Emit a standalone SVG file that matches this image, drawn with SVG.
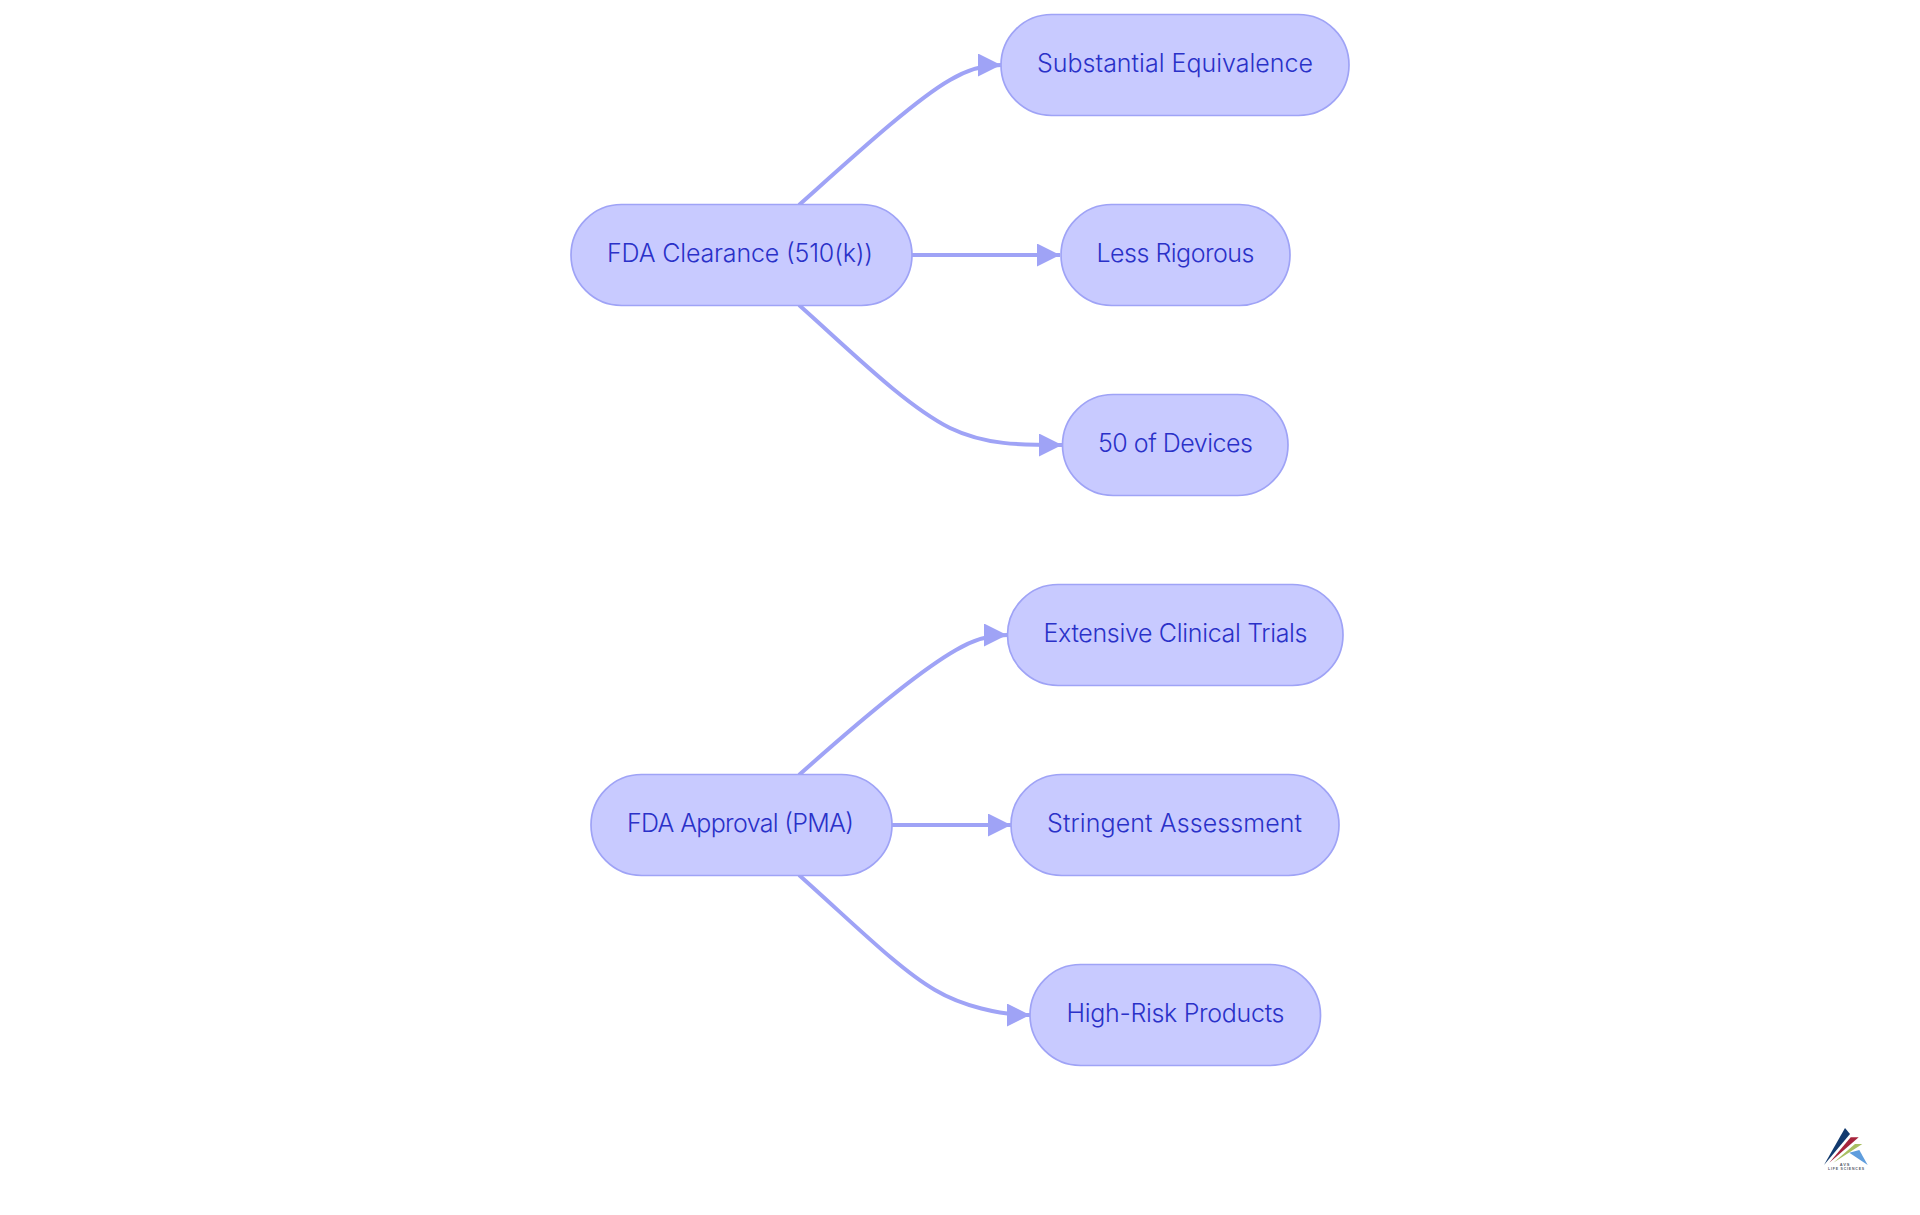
<svg xmlns="http://www.w3.org/2000/svg" width="1920" height="1215" viewBox="0 0 1920 1215">
<style>
.node rect{fill:#c8caff;stroke:#9fa3f6;stroke-width:1.700}
.node text{font-family:"Inter","Noto Sans",sans-serif;font-size:25px;font-weight:300;fill:#2a31c8;text-anchor:start}
.edge{fill:none;stroke:#9fa3f6;stroke-width:4}
.logo-t{font-family:"Liberation Sans",sans-serif;font-weight:700;fill:#555a68;text-anchor:middle}
</style>
<defs>
<marker id="arrow" markerUnits="userSpaceOnUse" markerWidth="24" markerHeight="24" refX="23" refY="11.500" orient="auto">
<path d="M0 0L23 11.500L0 23Z" fill="#9fa3f6"/>
</marker>
</defs>
<rect width="1920" height="1215" fill="#ffffff"/>
<g id="connectors">
<path class="edge" marker-end="url(#arrow)" d="M799 205C855 155 915 100 950 80C965 71 980 65 1001 65"/>
<path class="edge" marker-end="url(#arrow)" d="M912 255L1060 255"/>
<path class="edge" marker-end="url(#arrow)" d="M799 305C855 355 905 405 950 428C985 445 1020 445 1062 445"/>
<path class="edge" marker-end="url(#arrow)" d="M799 775C855 725 921 670 956 650C971 641 986 635 1007 635"/>
<path class="edge" marker-end="url(#arrow)" d="M892 825L1011 825"/>
<path class="edge" marker-end="url(#arrow)" d="M799 875C855 925 900 970 935 990C962 1006 1000 1015 1030 1015"/>
</g>
<g id="n1" class="node"><rect x="571" y="204.500" width="341" height="101" rx="50.500"/><text x="607" y="262" textLength="266">FDA Clearance (510(k))</text></g>
<g id="n2" class="node"><rect x="1001" y="14.500" width="348" height="101" rx="50.500"/><text x="1037" y="72" textLength="276">Substantial Equivalence</text></g>
<g id="n3" class="node"><rect x="1061" y="204.500" width="229" height="101" rx="50.500"/><text x="1096.500" y="262" textLength="158">Less Rigorous</text></g>
<g id="n4" class="node"><rect x="1062.500" y="394.500" width="225.500" height="101" rx="50.500"/><text x="1098" y="452" textLength="155">50 of Devices</text></g>
<g id="n5" class="node"><rect x="591" y="774.500" width="301" height="101" rx="50.500"/><text x="627" y="832" textLength="227">FDA Approval (PMA)</text></g>
<g id="n6" class="node"><rect x="1007.500" y="584.500" width="335.500" height="101" rx="50.500"/><text x="1043.500" y="642" textLength="264">Extensive Clinical Trials</text></g>
<g id="n7" class="node"><rect x="1011" y="774.500" width="328" height="101" rx="50.500"/><text x="1047" y="832" textLength="255">Stringent Assessment</text></g>
<g id="n8" class="node"><rect x="1030" y="964.500" width="290.500" height="101" rx="50.500"/><text x="1066.500" y="1022" textLength="218">High-Risk Products</text></g>
<g id="logo">
<polygon points="1824,1165 1845,1128 1850,1134" fill="#123a6e"/>
<polygon points="1829.300,1162.700 1850.700,1137.300 1858.700,1137.300" fill="#a6243c"/>
<polygon points="1833.300,1162.700 1855,1144 1862.300,1144" fill="#a9bf62"/>
<polygon points="1849.300,1152.700 1859.300,1150 1867.700,1165" fill="#5f9ddd"/>
<text class="logo-t" x="1845" y="1165.700" font-size="4" letter-spacing="0.800">AVS</text>
<text class="logo-t" x="1846.500" y="1170.300" font-size="3.500" letter-spacing="0.800">LIFE SCIENCES</text>
</g>
</svg>
